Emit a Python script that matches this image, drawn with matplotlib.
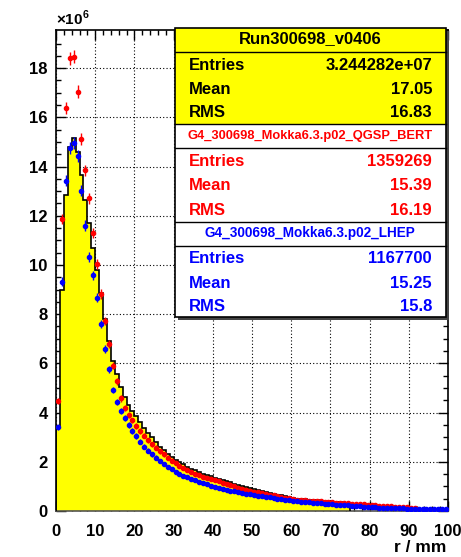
import matplotlib
matplotlib.use("Agg")
import matplotlib.pyplot as plt
from matplotlib.patches import Rectangle
import numpy as np

W, H = 461, 557

plt.rcParams['font.family'] = ['Liberation Sans', 'DejaVu Sans']
plt.rcParams['mathtext.fontset'] = 'custom'
plt.rcParams['mathtext.rm'] = 'Liberation Sans:bold'
plt.rcParams['mathtext.bf'] = 'Liberation Sans:bold'

# data histogram (yellow), 1 mm bins from 0 to 75 mm, units of 1e6
data_vals = [3.4, 9.0, 12.85, 14.8, 15.15, 14.6, 13.65, 12.65, 11.72, 10.7,
             9.8, 8.85, 7.82, 6.9, 6.1, 5.55, 5.05, 4.65, 4.3, 4.05,
             3.85, 3.6, 3.38, 3.18, 3.0, 2.82, 2.62, 2.46, 2.32, 2.2,
             2.08, 1.98, 1.89, 1.80, 1.72, 1.65, 1.58, 1.52, 1.46, 1.41,
             1.36, 1.31, 1.26, 1.21, 1.16, 1.11, 1.06, 1.01, 0.96, 0.92,
             0.88, 0.84, 0.80, 0.76, 0.73, 0.70, 0.66, 0.63, 0.59, 0.55,
             0.52, 0.50, 0.48, 0.47, 0.45, 0.44, 0.43, 0.42, 0.41, 0.39,
             0.38, 0.36, 0.35, 0.33, 0.31]

# G4 QGSP_BERT (red)
qgsp_vals = [4.48, 11.86, 16.39, 18.4, 18.47, 17.05, 15.12, 13.85, 12.71, 11.29,
             10.05, 8.82, 7.72, 6.79, 5.91, 5.28, 4.58, 4.2, 3.92, 3.68,
             3.45, 3.25, 3.06, 2.88, 2.72, 2.57, 2.43, 2.3, 2.17, 2.05,
             1.94, 1.84, 1.75, 1.66, 1.58, 1.51, 1.45, 1.39, 1.33, 1.29,
             1.25, 1.2, 1.15, 1.1, 1.05, 1.0, 0.95, 0.91, 0.87, 0.83,
             0.79, 0.76, 0.73, 0.69, 0.66, 0.63, 0.6, 0.57, 0.54, 0.51,
             0.48, 0.46, 0.45, 0.44, 0.42, 0.41, 0.4, 0.39, 0.38, 0.37,
             0.36, 0.34, 0.33, 0.32, 0.31, 0.3, 0.29, 0.28, 0.27, 0.26,
             0.25, 0.24, 0.22, 0.21, 0.2, 0.19, 0.18, 0.17, 0.16, 0.15,
             0.14, 0.13]

# G4 LHEP (blue)
lhep_vals = [3.4, 9.32, 13.43, 14.77, 14.95, 14.43, 13.01, 11.6, 10.33, 9.58,
             8.66, 7.59, 6.59, 5.76, 4.92, 4.44, 4.08, 3.77, 3.5, 3.25,
             3.05, 2.82, 2.61, 2.45, 2.3, 2.17, 2.04, 1.92, 1.8, 1.7,
             1.6, 1.52, 1.44, 1.37, 1.3, 1.24, 1.18, 1.13, 1.08, 1.03,
             0.99, 0.95, 0.91, 0.87, 0.83, 0.8, 0.77, 0.74, 0.71, 0.68,
             0.65, 0.62, 0.6, 0.57, 0.55, 0.52, 0.5, 0.48, 0.45, 0.43,
             0.41, 0.39, 0.38, 0.36, 0.35, 0.34, 0.32, 0.31, 0.3, 0.29,
             0.28, 0.26, 0.25, 0.24, 0.23, 0.22, 0.2, 0.19, 0.18, 0.17,
             0.16, 0.15, 0.14, 0.14, 0.13, 0.12, 0.12, 0.11, 0.11, 0.1,
             0.1, 0.09, 0.09, 0.09, 0.08, 0.08, 0.08, 0.07, 0.07, 0.07]

xticks = [0, 10, 20, 30, 40, 50, 60, 70, 80, 90, 100]
yticks = [0, 2, 4, 6, 8, 10, 12, 14, 16, 18]

stats_data = ["Run300698_v0406", "3.244282e+07", "17.05", "16.83"]
stats_qgsp = ["G4_300698_Mokka6.3.p02_QGSP_BERT", "1359269", "15.39", "16.19"]
stats_lhep = ["G4_300698_Mokka6.3.p02_LHEP", "1167700", "15.25", "15.8"]


def fx(px):
    return px / W


def fy(py):
    return 1 - py / H


fig = plt.figure(figsize=(W / 100, H / 100), dpi=100)
ax = fig.add_axes([fx(56), fy(511), fx(448) - fx(56), fy(30) - fy(511)])

edges = np.arange(len(data_vals) + 1)
ax.stairs(data_vals, edges, fill=True, color='#ffff00', zorder=2)
ax.stairs(data_vals, edges, color='black', lw=1.2, zorder=3)

# poisson-like error bars, just for the look of the markers
xr = np.arange(len(qgsp_vals)) + 0.5
ax.errorbar(xr, qgsp_vals, xerr=0.5, yerr=0.0625 * np.sqrt(qgsp_vals), fmt='o',
            color='#ff0000', ms=3, lw=1.0, capsize=0, zorder=4)
xb = np.arange(len(lhep_vals)) + 0.5
ax.errorbar(xb, lhep_vals, xerr=0.5, yerr=0.0625 * np.sqrt(lhep_vals), fmt='o',
            color='#0000ff', ms=3, lw=1.0, capsize=0, zorder=5)

ax.set_xlim(0, 100)
ax.set_ylim(0, 19.55)
ax.set_xticks(xticks)
ax.set_yticks(yticks)
ax.set_xticks(np.arange(0, 101, 2), minor=True)
ax.set_yticks(np.arange(0, 19.5, 0.5), minor=True)
ax.grid(True, which='major', ls=(0, (1, 2)), color='black', lw=0.8, zorder=1)
ax.set_axisbelow(True)
ax.tick_params(which='both', direction='in', top=True, right=True, width=1)
ax.tick_params(which='major', length=7, labelsize=12, pad=6)
ax.tick_params(axis='x', which='major', pad=9)
ax.tick_params(which='minor', length=3.5)
for lab in ax.get_xticklabels() + ax.get_yticklabels():
    lab.set_fontweight('bold')
for s in ax.spines.values():
    s.set_linewidth(1.2)
ax.spines['bottom'].set_color('#555550')

ax.text(0, 1.004, r'$\times$10$^{6}$', transform=ax.transAxes, ha='left',
        va='bottom', fontsize=11, fontweight='bold')
fig.text(fx(446), fy(552), 'r / mm', ha='right', va='baseline',
         fontsize=12.5, fontweight='bold')

# stats box
bx0, bx1, by0, by1 = 175, 446, 28, 317
fig.add_artist(Rectangle((fx(bx0 + 3), fy(by1 + 3)), fx(bx1 - bx0), fy(by0) - fy(by1),
                         transform=fig.transFigure, facecolor='#444444',
                         edgecolor='none', zorder=10))
fig.add_artist(Rectangle((fx(bx0), fy(124.3)), fx(bx1 - bx0), fy(by0) - fy(124.3),
                         transform=fig.transFigure, facecolor='#ffff00',
                         edgecolor='none', zorder=11))
fig.add_artist(Rectangle((fx(bx0), fy(by1)), fx(bx1 - bx0), fy(124.3) - fy(by1),
                         transform=fig.transFigure, facecolor='white',
                         edgecolor='none', zorder=11))
fig.add_artist(Rectangle((fx(bx0), fy(by1)), fx(bx1 - bx0), fy(by0) - fy(by1),
                         transform=fig.transFigure, facecolor='none',
                         edgecolor='black', lw=1.2, zorder=13))
for ly in [52.3, 124.3, 148.3, 221.7, 246]:
    fig.add_artist(plt.Line2D([fx(bx0), fx(bx1)], [fy(ly), fy(ly)],
                              transform=fig.transFigure, color='black', lw=1.0,
                              zorder=13))

names = ["Entries", "Mean", "RMS"]
blocks = [(stats_data, 'black', 39, [65, 89.3, 112.7], 12),
          (stats_qgsp, '#ff0000', 136, [161.7, 186, 210], 9.3),
          (stats_lhep, '#0000ff', 233.3, [258.3, 283.3, 306.7], 9.8)]
for vals, col, ty, rows, tsize in blocks:
    fig.text(fx(310), fy(ty), vals[0], ha='center', va='center', color=col,
             fontsize=tsize, fontweight='bold', zorder=14)
    for name, val, ry in zip(names, vals[1:], rows):
        fig.text(fx(189), fy(ry), name, ha='left', va='center', color=col,
                 fontsize=12, fontweight='bold', zorder=14)
        fig.text(fx(432), fy(ry), val, ha='right', va='center', color=col,
                 fontsize=12, fontweight='bold', zorder=14)

fig.savefig('out.png', dpi=100)
